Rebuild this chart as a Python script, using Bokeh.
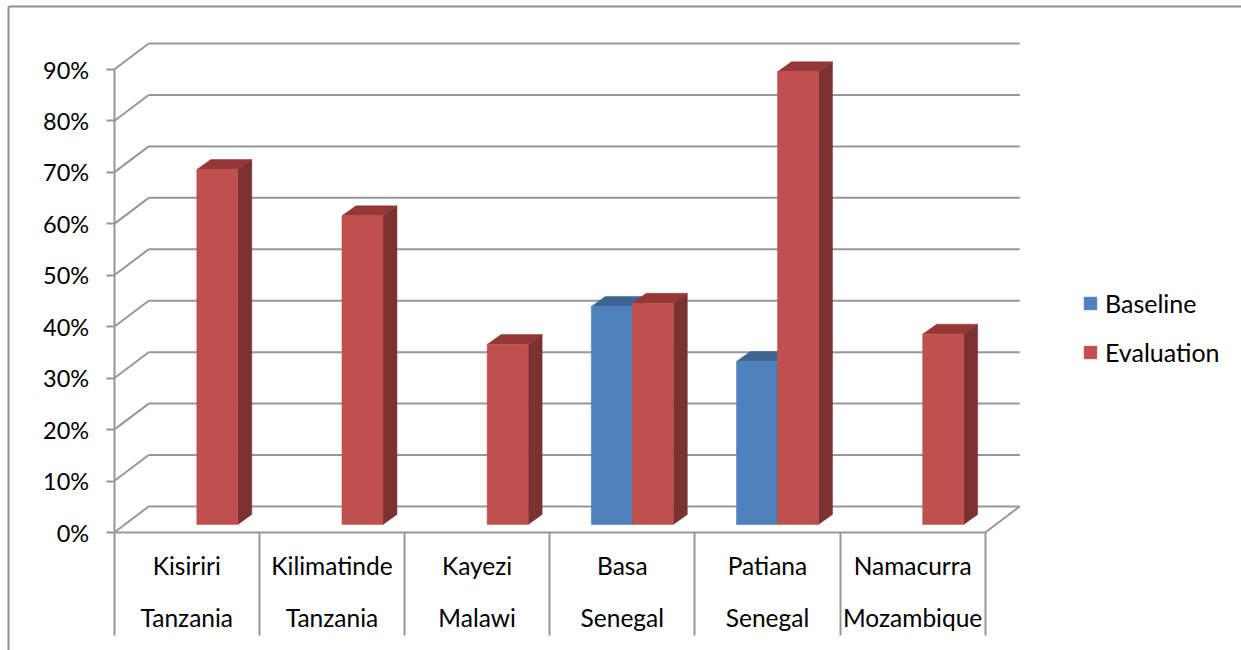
from bokeh.embed import file_html
from bokeh.models import (FixedTicker, Legend, LegendItem, LinearAxis,
                          NumeralTickFormatter, Range1d)
from bokeh.plotting import figure
from bokeh.resources import INLINE

places = ["Kisiriri", "Kilimatinde", "Kayezi", "Basa", "Patiana", "Namacurra"]
countries = ["Tanzania", "Tanzania", "Malawi", "Senegal", "Senegal", "Mozambique"]
baseline = [None, None, None, 0.424, 0.317, None]
evaluation = [0.69, 0.60, 0.35, 0.43, 0.88, 0.37]
y_ticks = [i / 10 for i in range(10)]

WIDTH, HEIGHT = 1241, 650
FONT = "Lato"
GRID = "#979797"

# Scale: one category and one unit of share, measured in pixels on the front plane
PX_CAT = 145.17
PX_UNIT = 514.4
X0_PX, Y0_PX = 113.7, 532.0


def dx(px):
    return px / PX_CAT


def dy(px):
    return px / PX_UNIT


# Oblique projection offsets: the wall, and the front and back of a bar
WALL_X, WALL_Y = dx(34.5), dy(26)
FRONT_X, FRONT_Y = dx(10), dy(8)
BACK_X, BACK_Y = dx(24), dy(18)
BAR_W = dx(41)

p = figure(
    width=WIDTH, height=HEIGHT, min_border=0,
    x_range=Range1d(-X0_PX / PX_CAT, (WIDTH - X0_PX) / PX_CAT),
    y_range=Range1d(-(HEIGHT - Y0_PX) / PX_UNIT, Y0_PX / PX_UNIT),
    x_axis_type=None, y_axis_type=None,
    toolbar_location=None, output_backend="svg",
    outline_line_color=None,
)
p.grid.visible = False

# Outer chart border, left and top edges only
left_edge = -dx(X0_PX - 8)
top_edge = dy(Y0_PX - 6)
p.segment([left_edge, left_edge], [top_edge, top_edge], [left_edge, p.x_range.end],
          [p.y_range.start, top_edge], line_color="#8f8f8f", line_width=2)

# Back wall gridlines with their oblique returns to the front plane
n_cat = len(places)
p.segment([0] * len(y_ticks), y_ticks, [WALL_X] * len(y_ticks),
          [v + WALL_Y for v in y_ticks], line_color=GRID, line_width=2)
p.segment([WALL_X] * len(y_ticks), [v + WALL_Y for v in y_ticks],
          [n_cat + WALL_X] * len(y_ticks), [v + WALL_Y for v in y_ticks],
          line_color=GRID, line_width=2)
p.segment([n_cat], [0], [n_cat + WALL_X], [WALL_Y], line_color=GRID, line_width=2)


def draw_series(values, offset, face, side, top):
    """Draw one series as boxes; returns the renderer of the front faces."""
    idx = [i for i, v in enumerate(values) if v is not None]
    vals = [values[i] for i in idx]
    lefts = [i + 0.5 + offset * BAR_W + FRONT_X for i in idx]
    rights = [x + BAR_W for x in lefts]
    depth_x = BACK_X - FRONT_X
    depth_y = BACK_Y - FRONT_Y
    bottom = FRONT_Y
    tops = [v + FRONT_Y for v in vals]
    p.patches(
        [[r, r + depth_x, r + depth_x, r] for r in rights],
        [[bottom, bottom + depth_y, t + depth_y, t] for t in tops],
        fill_color=side, line_color=side, line_width=0.5,
    )
    p.patches(
        [[l, l + depth_x, r + depth_x, r] for l, r in zip(lefts, rights)],
        [[t, t + depth_y, t + depth_y, t] for t in tops],
        fill_color=top, line_color=top, line_width=0.5,
    )
    return p.quad(left=lefts, right=rights, bottom=bottom, top=tops,
                  fill_color=face, line_color=face, line_width=0.5)


blue = draw_series(baseline, -1, "#4F81BD", "#2F4F78", "#3D6594")
red = draw_series(evaluation, 0, "#C0504D", "#7B312F", "#953735")

# Value axis
y_axis = LinearAxis(
    fixed_location=0, bounds=(0, 0.9),
    ticker=FixedTicker(ticks=y_ticks),
    formatter=NumeralTickFormatter(format="0%"),
    axis_line_color=GRID, axis_line_width=2,
    major_tick_line_color=GRID, major_tick_line_width=2,
    major_tick_in=0, major_tick_out=8, minor_tick_line_color=None,
    major_label_standoff=17,
    major_label_text_font=FONT, major_label_text_font_size="23.5px",
    major_label_text_color="#000000",
)
p.add_layout(y_axis, "left")

# Category axis: boundary ticks run down as separators between the label cells
sep_axis = LinearAxis(
    fixed_location=0, bounds=(0, n_cat),
    ticker=FixedTicker(ticks=list(range(n_cat + 1))),
    axis_line_color=GRID, axis_line_width=2,
    major_tick_line_color=GRID, major_tick_line_width=2,
    major_tick_in=0, major_tick_out=103, minor_tick_line_color=None,
    major_label_overrides={i: "" for i in range(n_cat + 1)},
)
p.add_layout(sep_axis, "below")


def label_axis(labels, standoff):
    centres = [i + 0.5 for i in range(len(labels))]
    return LinearAxis(
        fixed_location=0,
        ticker=FixedTicker(ticks=centres),
        major_label_overrides=dict(zip(centres, labels)),
        axis_line_color=None, major_tick_line_color=None,
        minor_tick_line_color=None, major_tick_in=0, major_tick_out=0,
        major_label_standoff=standoff,
        major_label_text_font=FONT, major_label_text_font_size="24.5px",
        major_label_text_color="#000000",
    )


p.add_layout(label_axis(places, 18), "below")
p.add_layout(label_axis(countries, 70), "below")

legend = Legend(
    items=[LegendItem(label="Baseline", renderers=[blue]),
           LegendItem(label="Evaluation", renderers=[red])],
    location=(1076, 283),
    background_fill_alpha=0, border_line_color=None,
    glyph_width=16, glyph_height=16, label_height=26, label_standoff=7,
    spacing=19, padding=8, margin=0,
    label_text_font=FONT, label_text_font_size="25px", label_text_color="#000000",
)
legend.location = (1082, 283)
p.add_layout(legend)

open("out.html", "w").write(file_html(p, INLINE))
